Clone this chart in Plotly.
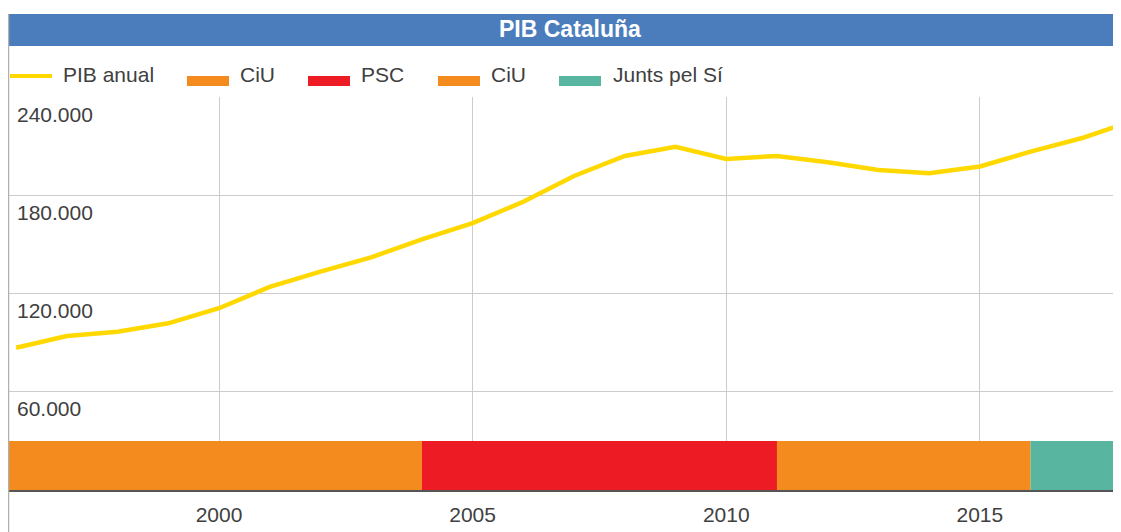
import plotly.graph_objects as go

# ---------------- data ----------------
years = list(range(1996, 2019))
pib = [86900, 94000, 96700, 101800, 111000, 124000, 133300, 142100, 153100,
       163000, 176000, 191800, 204000, 209600, 202100, 204000, 200100, 195400,
       193400, 197600, 206600, 214800, 225200]

party_names = ["CiU", "PSC", "CiU", "Junts pel Sí"]
party_start = [1995, 2004, 2011, 2016]
party_end = [2004, 2011, 2016, 2019]
party_colors = ["#F48B1F", "#ED1C24", "#F48B1F", "#58B59F"]
band_value = 30000

line_name = "PIB anual"
line_color = "#FFD800"
title_text = "PIB Cataluña"
x_ticks = [2000, 2005, 2010, 2015]
y_ticks = [60000, 120000, 180000, 240000]

# ---------------- layout helpers ----------------
# page body has an 8px margin, so figure coords = window coords - 8
W, H = 1121, 524
PL, PR, PT, PB = 1, 1121, 89, 482   # plot area in figure pixels


def px(x):
    return (x - PL) / (PR - PL)


def py(y):
    return (PB - y) / (PB - PT)


FONT = "Liberation Sans, Arial, sans-serif"
TXT = "#404040"
FS = 21

fig = go.Figure()

for name, s, e, c in zip(party_names, party_start, party_end, party_colors):
    fig.add_trace(go.Bar(
        x=[(s + e) / 2], y=[band_value], width=[e - s], name=name,
        marker=dict(color=c, line=dict(width=0)), showlegend=False,
        hoverinfo="skip"))

fig.add_trace(go.Scatter(
    x=years, y=pib, mode="lines", name=line_name,
    line=dict(color=line_color, width=4.5), showlegend=False))

shapes = []
annotations = []

# title bar
shapes.append(dict(type="rect", xref="paper", yref="paper",
                   x0=px(0), x1=1, y0=py(38), y1=py(6),
                   fillcolor="#4B7DBD", line=dict(width=0), layer="above"))
annotations.append(dict(text="<b>" + title_text + "</b>", xref="paper", yref="paper",
                        x=px(562), y=py(21), xanchor="center", yanchor="middle",
                        showarrow=False,
                        font=dict(family=FONT, size=23, color="white")))
# left border
shapes.append(dict(type="line", xref="paper", yref="paper",
                   x0=px(0.5), x1=px(0.5), y0=py(524), y1=py(6),
                   line=dict(color="#B0B0B0", width=1.5)))

# legend (manual)
sym_x = [2, 179, 300, 430, 551]
txt_x = [53, 230, 351, 481, 603]
leg_names = [line_name] + party_names
leg_colors = [line_color] + party_colors
for i, (n, c) in enumerate(zip(leg_names, leg_colors)):
    if i == 0:
        shapes.append(dict(type="line", xref="paper", yref="paper",
                           x0=px(sym_x[i]), x1=px(sym_x[i] + 42),
                           y0=py(68), y1=py(68),
                           line=dict(color=c, width=4)))
    else:
        shapes.append(dict(type="rect", xref="paper", yref="paper",
                           x0=px(sym_x[i]), x1=px(sym_x[i] + 42),
                           y0=py(78), y1=py(68),
                           fillcolor=c, line=dict(width=0)))
    annotations.append(dict(text=n, xref="paper", yref="paper",
                            x=px(txt_x[i]), y=py(66.5), xanchor="left",
                            yanchor="middle", showarrow=False,
                            font=dict(family=FONT, size=FS, color=TXT)))

# y tick labels drawn inside the plot, below their gridlines
for v in y_ticks:
    annotations.append(dict(text=f"{v:,.0f}".replace(",", "."),
                            xref="paper", yref="y", x=px(7), y=v,
                            xanchor="left", yanchor="middle", yshift=-17,
                            showarrow=False,
                            font=dict(family=FONT, size=FS, color=TXT)))

fig.update_layout(
    width=W, height=H,
    margin=dict(l=PL, r=W - PR, t=PT, b=H - PB, pad=0),
    paper_bgcolor="white", plot_bgcolor="white",
    separators=",.",
    barmode="overlay",
    shapes=shapes, annotations=annotations,
    font=dict(family=FONT, size=FS, color=TXT),
    xaxis=dict(range=[1995.86, 2017.94], tickvals=x_ticks,
               showgrid=True, gridcolor="#CCCCCC", gridwidth=1,
               showline=True, linecolor="#555555", linewidth=2,
               ticks="", ticklabelstandoff=5, zeroline=False,
               tickfont=dict(family=FONT, size=FS, color=TXT)),
    yaxis=dict(range=[0, 240000], tickvals=y_ticks,
               showgrid=True, gridcolor="#CCCCCC", gridwidth=1,
               showline=False, zeroline=False, ticks="",
               showticklabels=False),
)

# hide page scrollbars so the figure can run to the window's right edge
fig.write_html("out.html",
               post_script="document.documentElement.style.overflow='hidden';"
                           "document.body.style.overflow='hidden';")
